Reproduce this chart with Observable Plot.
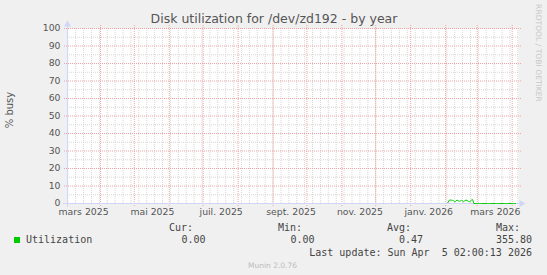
<!DOCTYPE html>
<html>
<head>
<meta charset="utf-8">
<script src="https://cdn.jsdelivr.net/npm/d3@7"></script>
<script src="https://cdn.jsdelivr.net/npm/@observablehq/plot@0.6"></script>
<style>
  html, body { margin: 0; padding: 0; background: #f0f0f0; }
  #wrap { position: relative; width: 547px; height: 275px; overflow: hidden; background: #f0f0f0; font-family: "DejaVu Sans", sans-serif; color: #555; }
  #chart { position: absolute; left: 0; top: 0; }
  .abs { position: absolute; white-space: pre; }
  #title { left: 0; width: 548px; top: 11px; text-align: center; font-size: 12.5px; color: #555; }
  #ylab { left: 9px; top: 110px; font-size: 10px; color: #555; transform: translate(-50%, -50%) rotate(-90deg); }
  #wm { left: 538px; top: 53px; font-size: 7.6px; color: #c8c8c8; transform: translate(-50%, -50%) rotate(90deg); }
  .mono { font-family: "DejaVu Sans Mono", monospace; font-size: 10px; color: #444; }
  .r { text-align: right; }
  #sw { left: 14px; top: 237px; width: 6px; height: 6px; background: #00cc00; }
  #munin { left: 0; width: 545px; top: 261px; text-align: center; font-size: 7.5px; color: #bbb; }
</style>
</head>
<body>
<div id="wrap">
  <div id="title" class="abs"></div>
  <div id="ylab" class="abs"></div>
  <div id="wm" class="abs"></div>
  <div id="chart"></div>
  <div id="legend"></div>
</div>
<script>
// ---- data ----
const titleText = "Disk utilization for /dev/zd192 - by year";
const yLabel = "% busy";
const watermark = "RRDTOOL / TOBI OETIKER";
const yTicks = [0, 10, 20, 30, 40, 50, 60, 70, 80, 90, 100];
const yMinor = [5, 15, 25, 35, 45, 55, 65, 75, 85, 95];
const xTickDates = ["2025-03-17", "2025-05-17", "2025-07-17", "2025-09-17", "2025-11-17", "2026-01-17", "2026-03-17"];
const xTickLabels = ["mars 2025", "mai 2025", "juil. 2025", "sept. 2025", "nov. 2025", "janv. 2026", "mars 2026"];
const xDomain = ["2025-03-02T18:30:00Z", "2026-04-06T14:00:00Z"];
// daily utilization (%), data only exists from 2026-02-03
const utilStart = "2026-02-03";
const utilValues = [0.5, 1.8, 2.0, 1.9, 1.8, 1.5, 1.0, 1.3, 1.9, 1.7, 1.2, 1.5, 1.8, 1.4, 1.0, 1.6, 1.9, 1.8, 1.3, 1.0, 1.4, 2.0, 2.2,
  0, 0, 0, 0, 0, 0, 0, 0, 0, 0, 0, 0, 0, 0, 0, 0, 0, 0, 0, 0, 0, 0, 0, 0, 0, 0, 0, 0, 0, 0, 0, 0, 0, 0, 0, 0, 0, 0];
const legendName = "Utilization";
const legendHeads = ["Cur:", "Min:", "Avg:", "Max:"];
const legendVals = ["0.00", "0.00", "0.47", "355.80"];
const lastUpdate = "Last update: Sun Apr  5 02:00:13 2026";
const muninVersion = "Munin 2.0.76";

// ---- build ----
const dom = xDomain.map(d => new Date(d));
const t0 = new Date(utilStart + "T00:00:00Z");
const series = utilValues.map((v, i) => ({date: d3.utcDay.offset(t0, i), value: v}));
const tickDates = xTickDates.map(d => new Date(d + "T00:00:00Z"));
const mondays = d3.utcMonday.range(dom[0], dom[1]);
const months = d3.utcMonth.range(dom[0], dom[1]);

const minorColor = "#d6d6d6";
const majorColor = "#eea4a4";
const axisColor = "#cfd6f8";

const chart = Plot.plot({
  width: 547,
  height: 225,
  marginLeft: 67,
  marginRight: 29,
  marginTop: 28,
  marginBottom: 22,
  style: {background: "transparent", fontFamily: "DejaVu Sans, sans-serif", fontSize: "9.3px", color: "#555"},
  x: {type: "utc", domain: dom},
  y: {domain: [0, 100]},
  marks: [
    Plot.frame({fill: "white", stroke: null}),
    Plot.ruleY(yMinor, {stroke: minorColor, strokeDasharray: "1,1"}),
    Plot.ruleX(mondays, {stroke: minorColor, strokeDasharray: "1,1"}),
    Plot.ruleY(yTicks, {stroke: majorColor, strokeDasharray: "1,1", insetLeft: -3, insetRight: -3}),
    Plot.ruleX(months, {stroke: majorColor, strokeDasharray: "1,1", insetBottom: -3, insetTop: -3}),
    Plot.ruleY([0], {stroke: axisColor, insetLeft: -4, insetRight: -3}),
    Plot.ruleX([dom[0]], {stroke: axisColor, insetBottom: -4, insetTop: -3}),
    Plot.dot([0], {frameAnchor: "top-left", symbol: "triangle", r: 2.6, fill: axisColor, stroke: null, dy: -4}),
    Plot.dot([0], {frameAnchor: "bottom-right", symbol: "triangle", rotate: 90, r: 2.6, fill: axisColor, stroke: null, dx: 3}),
    Plot.line(series, {x: "date", y: "value", stroke: "#00cc00", strokeWidth: 1}),
    Plot.axisY({ticks: yTicks, tickSize: 0, tickPadding: 7, label: null}),
    Plot.axisX({ticks: tickDates, tickSize: 0, tickPadding: 5, label: null, tickFormat: (d, i) => xTickLabels[i]})
  ]
});
document.getElementById("chart").appendChild(chart);

document.getElementById("title").textContent = titleText;
document.getElementById("ylab").textContent = yLabel;
document.getElementById("wm").textContent = watermark;

const wrap = document.getElementById("wrap");
function addText(text, cls, style) {
  const el = document.createElement("div");
  el.className = "abs " + cls;
  el.textContent = text;
  Object.assign(el.style, style);
  wrap.appendChild(el);
  return el;
}
const sw = document.createElement("div");
sw.id = "sw"; sw.className = "abs";
wrap.appendChild(sw);
addText(legendName, "mono", {left: "26px", top: "234px"});
const headRight = [193, 302, 411, 520];
const valRight = [205.5, 314.5, 423, 532];
legendHeads.forEach((h, i) => addText(h, "mono", {right: (547 - headRight[i]) + "px", top: "222px"}));
legendVals.forEach((v, i) => addText(v, "mono", {right: (547 - valRight[i]) + "px", top: "234px"}));
addText(lastUpdate, "mono", {right: (547 - 532) + "px", top: "247px"});
const mv = addText(muninVersion, "", {});
mv.id = "munin";
</script>
</body>
</html>
